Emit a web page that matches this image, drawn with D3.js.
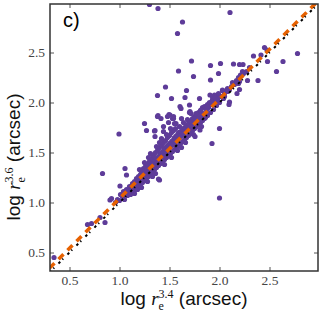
<!DOCTYPE html>
<html>
<head>
<meta charset="utf-8">
<script src="https://cdn.jsdelivr.net/npm/d3@7"></script>
<style>
  body { margin: 0; background: #fff; }
  .tick text { font-family: "Liberation Serif", "DejaVu Serif", serif; font-size: 13.5px; fill: #444; }
  .tick line { stroke: #555; stroke-width: 1; }
</style>
</head>
<body>
<div class="chart"></div>
<script>
// log r_e at 3.4 micron (x) vs log r_e at 3.6 micron (y)
var scatterMain = [
  [0.96,1.00],[0.98,1.03],[1.00,1.02],[1.01,1.08],[1.03,1.06],[1.04,1.11],[1.05,1.03],[1.06,1.09],
  [1.07,1.13],[1.08,1.07],[1.09,1.12],[1.10,1.10],[1.10,1.16],
  [1.11,1.08],[1.12,1.14],[1.13,1.19],[1.13,1.11],[1.14,1.16],[1.15,1.13],[1.15,1.21],[1.16,1.18],
  [1.17,1.15],[1.17,1.24],[1.18,1.20],[1.18,1.13],[1.19,1.26],[1.19,1.17],[1.20,1.22],[1.20,1.19],
  [1.21,1.28],[1.21,1.16],[1.22,1.24],[1.22,1.31],[1.23,1.20],[1.23,1.27],[1.24,1.23],[1.24,1.34],
  [1.25,1.29],[1.25,1.22],[1.26,1.26],[1.26,1.36],[1.27,1.31],[1.27,1.24],[1.28,1.28],[1.28,1.38],
  [1.29,1.33],[1.29,1.26],[1.30,1.30],[1.30,1.41],
  [1.31,1.36],[1.31,1.28],[1.32,1.33],[1.32,1.44],[1.33,1.39],[1.33,1.30],[1.34,1.35],[1.34,1.47],
  [1.35,1.42],[1.35,1.33],[1.36,1.38],[1.36,1.50],[1.37,1.44],[1.37,1.35],[1.38,1.40],[1.38,1.52],
  [1.39,1.46],[1.39,1.37],[1.40,1.43],[1.40,1.55],[1.41,1.49],[1.41,1.39],[1.42,1.45],[1.42,1.57],
  [1.43,1.51],[1.43,1.41],[1.44,1.47],[1.44,1.60],[1.45,1.54],[1.45,1.43],[1.46,1.50],[1.46,1.62],
  [1.47,1.56],[1.47,1.45],[1.48,1.52],[1.48,1.65],[1.49,1.58],[1.49,1.47],[1.50,1.55],[1.50,1.67],
  [1.51,1.60],[1.51,1.49],[1.52,1.57],[1.52,1.70],[1.53,1.62],[1.53,1.51],[1.54,1.58],[1.54,1.72],
  [1.55,1.65],[1.55,1.53],[1.56,1.61],[1.56,1.74],[1.57,1.67],[1.57,1.55],[1.58,1.63],[1.59,1.70],
  [1.59,1.57],[1.60,1.65],[1.60,1.76],[1.61,1.71],[1.61,1.59],[1.62,1.67],[1.63,1.73],[1.63,1.61],
  [1.64,1.69],[1.64,1.80],[1.65,1.75],[1.65,1.63],[1.66,1.71],[1.67,1.77],[1.67,1.65],[1.68,1.73],
  [1.68,1.83],[1.69,1.79],[1.69,1.67],[1.70,1.75],
  [1.71,1.81],[1.71,1.69],[1.72,1.77],[1.73,1.84],[1.73,1.72],[1.74,1.79],[1.75,1.86],[1.75,1.74],
  [1.76,1.81],[1.77,1.88],[1.77,1.76],[1.78,1.83],[1.79,1.90],[1.79,1.78],[1.80,1.85],[1.81,1.92],
  [1.81,1.80],[1.82,1.87],[1.83,1.95],[1.83,1.82],[1.84,1.89],[1.85,1.96],[1.86,1.85],[1.87,1.93],
  [1.88,1.98],[1.88,1.87],[1.89,1.95],[1.90,2.00],[1.91,1.90],[1.92,1.98],[1.93,2.03],[1.94,1.93],
  [1.95,2.00],[1.96,2.06],[1.97,1.97],[1.98,2.03],[1.99,2.09],[2.00,2.00],[2.01,2.06],[2.03,2.12],
  [2.04,2.04],[2.05,2.09],[2.07,2.11],[2.08,2.14],[2.10,2.13],[2.12,2.16],[2.13,2.20],[2.15,2.18],
  [2.17,2.22],[2.19,2.25],[2.20,2.21],[2.22,2.27],[2.24,2.29],[2.27,2.31],[2.30,2.35],
  // borde irregular de la nube
  [1.15,1.09],[1.22,1.15],[1.28,1.21],[1.33,1.26],[1.36,1.29],[1.45,1.38],[1.52,1.45],[1.58,1.52],
  [1.62,1.55],[1.66,1.60],[1.74,1.68],[1.82,1.76],[1.20,1.33],[1.29,1.45],[1.31,1.49],[1.40,1.60],
  [1.42,1.64],[1.47,1.68],[1.55,1.79],[1.62,1.84],[1.70,1.90],[1.25,1.40],[1.37,1.56]
];

var scatterOutliers = [
  [1.30,2.98],[1.385,2.94],[2.105,2.90],[1.63,2.805],[1.58,2.69],[1.72,2.415],[1.91,2.37],[2.01,2.39],
  [2.14,2.385],[2.20,2.38],[2.235,2.38],[1.59,2.315],[1.74,2.26],[1.99,2.29],[1.91,2.225],[1.46,2.155],
  [1.67,2.12],[1.38,2.07],[1.52,2.04],[1.655,2.05],[1.80,2.04],
  [2.78,2.49],[2.635,2.41],[2.57,2.31],[2.45,2.55],[2.475,2.525],[2.34,2.465],[2.415,2.475],[2.48,2.41],
  [2.385,2.22],[2.28,2.22],[2.21,2.275],[2.23,2.31],[2.19,2.19],[2.20,2.13],[2.175,2.09],[2.10,2.005],
  [2.095,1.98],[2.00,1.74],[2.08,2.11],[2.05,2.06],[2.03,2.125],[1.95,2.075],[1.93,2.06],[2.015,2.06],
  [1.70,1.975],[1.605,1.96],[1.385,1.87],[1.495,1.88],[1.54,1.84],[1.705,1.91],[1.765,1.89],[1.905,2.075],
  [1.955,2.045],[1.935,2.01],[1.89,1.96],[1.97,2.025],
  [1.35,1.715],[1.44,1.76],[1.49,1.80],[1.925,1.59],[1.755,1.66],[1.805,1.725],
  [0.83,1.29],[1.055,1.34],[1.005,1.165],[1.07,1.275],[1.40,1.225],[1.39,1.235],
  [0.345,0.45],[0.68,0.78],[0.72,0.79],[0.805,0.85],[0.855,0.80],[0.905,1.025],[0.92,1.04],
  [0.995,1.685],[1.25,1.79],[1.27,1.72],[1.355,1.72],[1.44,1.71],[1.38,1.86],[1.355,1.66],[1.415,1.84],
  [1.48,1.86],[1.53,1.84],[1.565,1.79],[1.51,1.74],[1.615,1.94],[1.715,1.89],[1.815,1.925],[1.88,1.96],
  [1.75,1.84],[1.85,1.84],[2.00,1.045],[1.505,1.875],[1.54,1.86]
];

// one-to-one line and fitted relation (endpoints)
var oneToOneX = [0.3, 3.0];
var oneToOneY = [0.3, 3.0];
var fitX = [0.3, 3.0];
var fitY = [0.344, 3.03];

var xTicks = [0.5, 1.0, 1.5, 2.0, 2.5];
var yTicks = [0.5, 1.0, 1.5, 2.0, 2.5];

var margin = {top: 4, right: 4, bottom: 45, left: 50};
var w = 322 - margin.left - margin.right;
var h = 316 - margin.top - margin.bottom;

var svg = d3.select(".chart").append("svg")
    .attr("width", 322)
    .attr("height", 316);

var g = svg.append("g")
    .attr("transform", "translate(" + margin.left + "," + margin.top + ")");

var x = d3.scaleLinear().domain([0.305, 2.985]).range([0, w]);
var y = d3.scaleLinear().domain([0.315, 2.985]).range([h, 0]);

svg.append("defs").append("clipPath").attr("id", "clip")
  .append("rect").attr("width", w).attr("height", h);

var plot = g.append("g").attr("clip-path", "url(#clip)");

var purple = "#5e3c99";
var orange = "#e66101";

plot.selectAll(".pt")
    .data(scatterMain.concat(scatterOutliers))
  .enter().append("circle")
    .attr("class", "pt")
    .attr("cx", function(d) { return x(d[0]); })
    .attr("cy", function(d) { return y(d[1]); })
    .attr("r", 2.6)
    .attr("fill", purple);

var line = d3.line()
    .x(function(d) { return x(d[0]); })
    .y(function(d) { return y(d[1]); });

plot.append("path")
    .datum(d3.zip(fitX, fitY))
    .attr("d", line)
    .attr("fill", "none")
    .attr("stroke", orange)
    .attr("stroke-width", 3.5)
    .attr("stroke-dasharray", "7,5.7");

plot.append("path")
    .datum(d3.zip(oneToOneX, oneToOneY))
    .attr("d", line)
    .attr("fill", "none")
    .attr("stroke", "#000")
    .attr("stroke-width", 2)
    .attr("stroke-dasharray", "2.5,3,1.2,6");

// ejes: ticks hacia dentro en los cuatro lados
var fmt = d3.format(".1f");
g.append("g").attr("transform", "translate(0," + h + ")")
    .call(d3.axisBottom(x).tickValues(xTicks).tickFormat(fmt).tickSizeInner(-4).tickSizeOuter(0).tickPadding(4));
g.append("g")
    .call(d3.axisLeft(y).tickValues(yTicks).tickFormat(fmt).tickSizeInner(-4).tickSizeOuter(0).tickPadding(5));
g.append("g")
    .call(d3.axisTop(x).tickValues(xTicks).tickFormat("").tickSizeInner(-4).tickSizeOuter(0));
g.append("g").attr("transform", "translate(" + w + ",0)")
    .call(d3.axisRight(y).tickValues(yTicks).tickFormat("").tickSizeInner(-4).tickSizeOuter(0));
g.selectAll(".domain").remove();

g.append("rect")
    .attr("width", w).attr("height", h)
    .attr("fill", "none")
    .attr("stroke", "#333")
    .attr("stroke-width", 1.5);

g.append("text")
    .attr("x", 13).attr("y", 22.5)
    .style("font-family", "'Liberation Sans', Arial, sans-serif")
    .style("font-size", "20px")
    .text("c)");

// etiquetas de los ejes
function axisLabel(sel, sup) {
  sel.style("font-family", "'Liberation Sans', Arial, sans-serif").style("font-size", "19px").attr("fill", "#111");
  sel.append("tspan").text("log ");
  sel.append("tspan").style("font-family", "'Liberation Serif', serif").style("font-style", "italic").text("r");
  sel.append("tspan").style("font-family", "'Liberation Serif', serif").style("font-size", "12px")
     .attr("dy", 5).text("e");
  sel.append("tspan").style("font-family", "'Liberation Serif', serif").style("font-size", "12px")
     .attr("dx", -5.3).attr("dy", -12.5).text(sup);
  sel.append("tspan").attr("dy", 7.5).text(" (arcsec)");
}

svg.append("text")
    .attr("x", margin.left + w / 2).attr("y", 305)
    .attr("text-anchor", "middle")
    .call(axisLabel, "3.4");

svg.append("text")
    .attr("transform", "translate(20,157) rotate(-90)")
    .attr("text-anchor", "middle")
    .call(axisLabel, "3.6");
</script>
</body>
</html>
